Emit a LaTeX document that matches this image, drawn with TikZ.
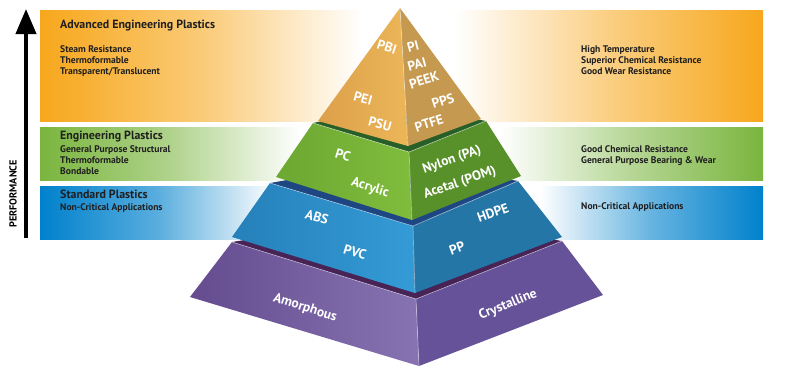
\documentclass[tikz,border=0pt]{standalone}
\usepackage{fontspec}
\setmainfont{PT Sans}
\usetikzlibrary{arrows.meta}

\definecolor{advorange}{RGB}{247,167,28}
\definecolor{enggreen}{RGB}{122,181,62}
\definecolor{stdblue}{RGB}{0,129,204}
\definecolor{tanleft}{RGB}{236,182,88}
\definecolor{tanleftdk}{RGB}{220,160,74}
\definecolor{tanright}{RGB}{198,153,80}
\definecolor{greenrim}{RGB}{40,95,40}
\definecolor{greenleft}{RGB}{128,188,60}
\definecolor{greenleftdk}{RGB}{108,168,50}
\definecolor{greenright}{RGB}{88,145,42}
\definecolor{bluerim}{RGB}{30,70,130}
\definecolor{blueleft}{RGB}{52,155,214}
\definecolor{blueleftdk}{RGB}{38,128,185}
\definecolor{blueright}{RGB}{35,118,165}
\definecolor{purplerim}{RGB}{72,35,85}
\definecolor{purpleleft}{RGB}{135,115,178}
\definecolor{purpleleftdk}{RGB}{100,76,142}
\definecolor{purpleright}{RGB}{102,82,152}

\begin{document}
\begin{tikzpicture}[x=1pt,y=-1pt,
    title/.style={anchor=north west, inner sep=0pt, text=black!88, font=\fontsize{11.9}{13}\selectfont\bfseries},
    detail/.style={anchor=north west, inner sep=0pt, align=left, text=black!88, font=\fontsize{9.6}{11.3}\selectfont\bfseries},
    plastic/.style={inner sep=0pt, text=white, font=\fontsize{13.5}{15}\selectfont\bfseries},
    ridge/.style={white, opacity=0.45, line width=0.7pt}]
    \useasboundingbox (0,0) rectangle (785,380);

    % Bands
    \shade[left color=advorange, right color=white, middle color=advorange!60] (40,10) rectangle (362,121);
    \shade[left color=white, right color=advorange, middle color=advorange!55] (455,10) rectangle (763,121);
    \shade[left color=enggreen, right color=white, middle color=enggreen!60] (40,127) rectangle (300,180);
    \shade[left color=white, right color=enggreen, middle color=enggreen!55] (500,127) rectangle (763,180);
    \shade[left color=stdblue, right color=white, middle color=stdblue!65] (40,186) rectangle (275,239);
    \shade[left color=white, right color=stdblue, middle color=stdblue!60] (540,186) rectangle (763,239);

    % Pyramid - bottom tier
    \fill[purplerim] (232,242) -- (416,299) -- (562,241) -- (400,215) -- cycle;
    \shade[left color=purpleleftdk, right color=purpleleft] (232,242) -- (416,299) -- (419,366) -- (190,297) -- cycle;
    \fill[purpleright] (416,299) -- (562,241) -- (603,295) -- (419,366) -- cycle;
    \draw[ridge] (232,242) -- (416,299) -- (562,241);
    \draw[ridge] (416,299) -- (419,366);

    % Pyramid - blue tier
    \fill[bluerim] (270,183) -- (413,226) -- (518,181) -- (400,160) -- cycle;
    \shade[left color=blueleftdk, right color=blueleft] (270,183) -- (413,226) -- (415,293) -- (232,237) -- cycle;
    \fill[blueright] (413,226) -- (518,181) -- (562,237) -- (415,293) -- cycle;
    \draw[ridge] (270,183) -- (413,226) -- (518,181);
    \draw[ridge] (413,226) -- (415,293);

    % Pyramid - green tier
    \fill[greenrim] (313,123) -- (409,152) -- (486,121) -- (400,105) -- cycle;
    \shade[left color=greenleftdk, right color=greenleft] (313,123) -- (409,152) -- (412,220) -- (276,177) -- cycle;
    \fill[greenright] (409,152) -- (486,121) -- (521,176) -- (412,220) -- cycle;
    \draw[ridge] (313,123) -- (409,152) -- (486,121);
    \draw[ridge] (409,152) -- (412,220);

    % Pyramid - top tier
    \shade[left color=tanleftdk, right color=tanleft] (400,8) -- (408,146) -- (318,121) -- cycle;
    \fill[tanright] (400,8) -- (481,119) -- (408,146) -- cycle;
    \draw[ridge] (400,8) -- (408,146);

    % Performance arrow
    \coordinate (perflo) at (26,238);
    \coordinate (perfhi) at (26,9);
    \draw[line width=4pt, -{Triangle[width=20pt, length=25pt]}] (perflo) -- (perfhi);
    \node[rotate=90, inner sep=0pt, font=\fontsize{10.2}{11}\selectfont\bfseries] (perf) at (13,194) {PERFORMANCE};

    % Band texts
    \node[title] (advtitle) at (60,20) {Advanced Engineering Plastics};
    \node[detail] (advleft) at (60,45) {Steam Resistance\\Thermoformable\\Transparent/Translucent};
    \node[detail] (advright) at (581,45) {High Temperature\\Superior Chemical Resistance\\Good Wear Resistance};
    \node[title] (engtitle) at (60,131) {Engineering Plastics};
    \node[detail] (engleft) at (60,145) {General Purpose Structural\\Thermoformable\\Bondable};
    \node[detail] (engright) at (581,145) {Good Chemical Resistance\\General Purpose Bearing \& Wear};
    \node[title] (stdtitle) at (60,190) {Standard Plastics};
    \node[detail] (stdleft) at (60,203) {Non-Critical Applications};
    \node[detail] (stdright) at (581,202) {Non-Critical Applications};

    % Plastics on the pyramid
    \node[plastic, rotate=-18] (pbi) at (387,47) {PBI};
    \node[plastic, rotate=-15] (pei) at (363,98) {PEI};
    \node[plastic, rotate=-15] (psu) at (380,124) {PSU};
    \node[plastic, rotate=15] (pi) at (413,46) {PI};
    \node[plastic, rotate=15] (pai) at (417,64) {PAI};
    \node[plastic, rotate=18] (peek) at (424,80) {PEEK};
    \node[plastic, rotate=18] (pps) at (443,101) {PPS};
    \node[plastic, rotate=18] (ptfe) at (429,123) {PTFE};
    \node[plastic, rotate=-17] (pc) at (343,155) {PC};
    \node[plastic, rotate=-17] (acrylic) at (370,188) {Acrylic};
    \node[plastic, rotate=19] (nylon) at (452,160) {Nylon (PA)};
    \node[plastic, rotate=19] (acetal) at (460,183) {Acetal (POM)};
    \node[plastic, rotate=-17] (abs) at (317,217) {ABS};
    \node[plastic, rotate=-17] (pvc) at (355,252) {PVC};
    \node[plastic, rotate=20] (hdpe) at (493,213) {HDPE};
    \node[plastic, rotate=20] (pp) at (457,248) {PP};
    \node[plastic, rotate=-18] (amorph) at (305,308) {Amorphous};
    \node[plastic, rotate=22] (cryst) at (508,305) {Crystalline};
\end{tikzpicture}
\end{document}
